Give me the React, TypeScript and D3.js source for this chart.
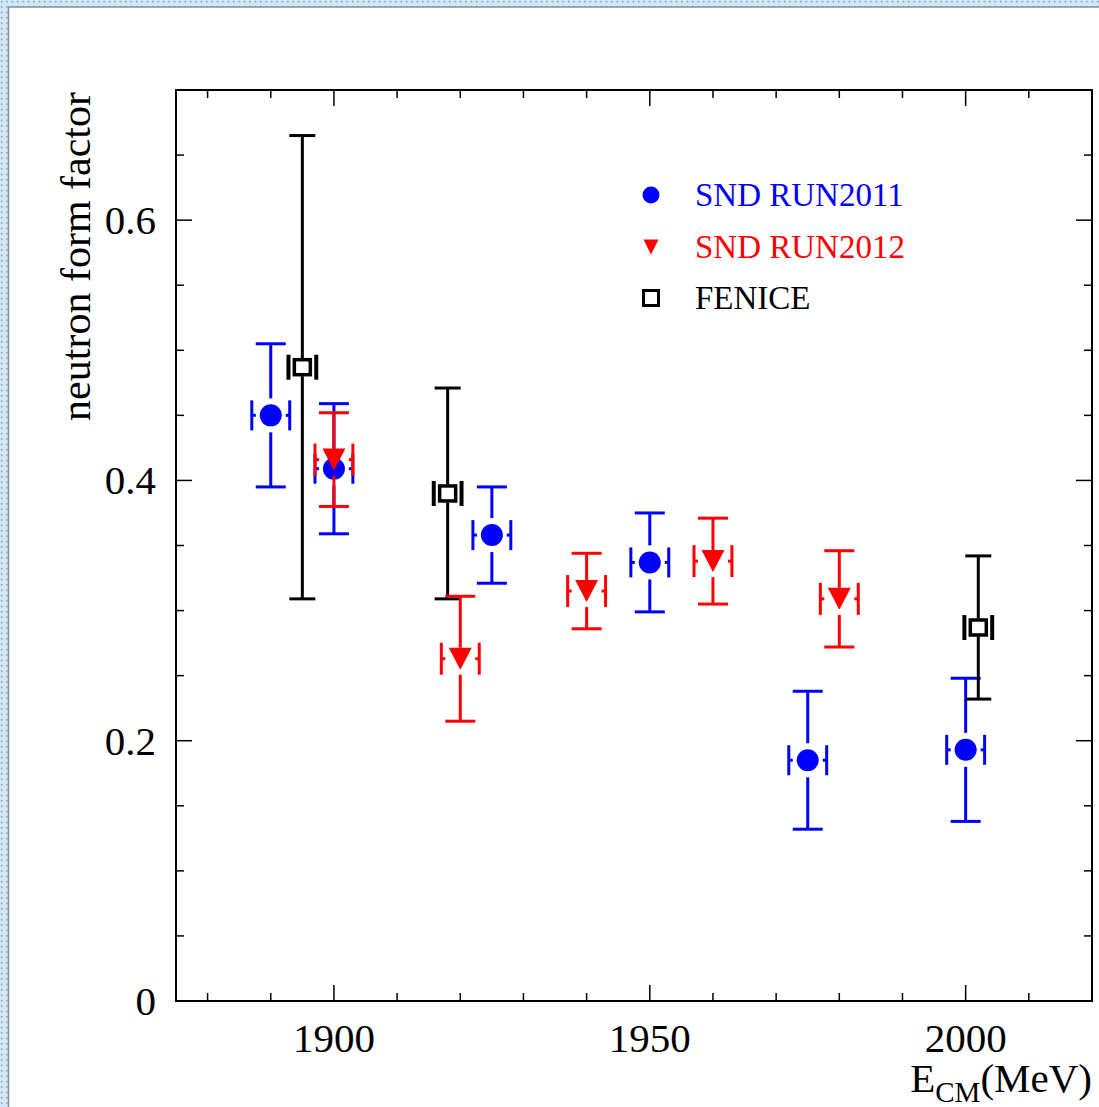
import { useMemo } from 'react';
import * as d3 from 'd3';

// E_CM in MeV, neutron form factor, symmetric stat. error
const run2011E = [1890, 1900, 1925, 1950, 1975, 2000];
const run2011F = [0.45, 0.409, 0.358, 0.337, 0.185, 0.193];
const run2011Err = [0.055, 0.05, 0.037, 0.038, 0.053, 0.055];

const run2012E = [1900, 1920, 1940, 1960, 1980];
const run2012F = [0.416, 0.263, 0.315, 0.338, 0.309];
const run2012Err = [0.036, 0.048, 0.029, 0.033, 0.037];

const feniceE = [1895, 1918, 2002];
const feniceF = [0.487, 0.39, 0.287];
const feniceErr = [0.178, 0.081, 0.055];

// beam energy spread shown as brackets (MeV)
const sndSpread = 3;
const feniceSpread = 2.2;

const xMajor = [1900, 1950, 2000];
const yMajor = [0, 0.2, 0.4, 0.6];

const legendLabels = ['SND RUN2011', 'SND RUN2012', 'FENICE'];

const W = 1099;
const H = 1107;
const plot = { left: 176, right: 1092, top: 90, bottom: 1001 };
const FONT = '"Liberation Serif", "Times New Roman", serif';

function zip(e: number[], f: number[], err: number[]) {
  return e.map((v, i) => ({ e: v, f: f[i], err: err[i] }));
}

export default function App() {
  const x = useMemo(() => d3.scaleLinear().domain([1875, 2020]).range([plot.left, plot.right]), []);
  const y = useMemo(() => d3.scaleLinear().domain([0, 0.7]).range([plot.bottom, plot.top]), []);

  const xMinor = d3.range(1880, 2021, 10).filter((v) => !xMajor.includes(v));
  const yMinor = d3.range(0, 14).map((i) => +(i * 0.05).toFixed(2)).filter((v) => !yMajor.includes(v));

  const blue = zip(run2011E, run2011F, run2011Err);
  const red = zip(run2012E, run2012F, run2012Err);
  const black = zip(feniceE, feniceF, feniceErr);

  const errBar = (
    d: { e: number; f: number; err: number },
    color: string,
    gapTop: number,
    gapBot: number,
    capHalf: number,
    spread: number,
    bracketHalf: number,
    bracketW: number,
    tick: number,
    key: string
  ) => {
    const cx = x(d.e);
    const cy = y(d.f);
    const yt = y(d.f + d.err);
    const yb = y(d.f - d.err);
    const xl = x(d.e - spread);
    const xr = x(d.e + spread);
    return (
      <g key={key} stroke={color} fill="none">
        <line x1={cx} x2={cx} y1={yt} y2={cy - gapTop} strokeWidth={3} />
        <line x1={cx} x2={cx} y1={cy + gapBot} y2={yb} strokeWidth={3} />
        <line x1={cx - capHalf} x2={cx + capHalf} y1={yt} y2={yt} strokeWidth={3} />
        <line x1={cx - capHalf} x2={cx + capHalf} y1={yb} y2={yb} strokeWidth={3} />
        <line x1={xl} x2={xl} y1={cy - bracketHalf} y2={cy + bracketHalf} strokeWidth={bracketW} />
        <line x1={xr} x2={xr} y1={cy - bracketHalf} y2={cy + bracketHalf} strokeWidth={bracketW} />
        {tick > 0 ? <line x1={xl} x2={xl + tick} y1={cy} y2={cy} strokeWidth={3} /> : null}
        {tick > 0 ? <line x1={xr - tick} x2={xr} y1={cy} y2={cy} strokeWidth={3} /> : null}
      </g>
    );
  };

  const tri = (cx: number, cy: number, hw: number, hh: number) =>
    `M${cx - hw},${cy - hh}L${cx + hw},${cy - hh}L${cx},${cy + hh}Z`;

  return (
    <svg
      width={W}
      height={H}
      style={{ position: 'absolute', left: 0, top: 0, background: '#fff' }}
      fontFamily={FONT}
    >
      <defs>
        <pattern id="dots" width="5.4" height="5.4" patternUnits="userSpaceOnUse">
          <rect width="5.4" height="5.4" fill="#cfe9fb" />
          <circle cx="1.6" cy="1.6" r="0.9" fill="#8a98a8" />
        </pattern>
      </defs>
      {/* window frame */}
      <rect x={0} y={0} width={W} height={7} fill="url(#dots)" />
      <rect x={0} y={0} width={8} height={H} fill="url(#dots)" />
      <line x1={8.5} x2={8.5} y1={7} y2={H} stroke="#8c8c8c" strokeWidth={1.5} />
      <line x1={8} x2={W} y1={7} y2={7} stroke="#8c8c8c" strokeWidth={1.5} />

      {/* axes box */}
      <rect
        x={plot.left}
        y={plot.top}
        width={plot.right - plot.left}
        height={plot.bottom - plot.top}
        fill="none"
        stroke="#000"
        strokeWidth={2}
      />
      <g stroke="#000" strokeWidth={1.5}>
        {xMajor.map((v) => (
          <g key={`xM${v}`}>
            <line x1={x(v)} x2={x(v)} y1={plot.bottom} y2={plot.bottom - 16} />
            <line x1={x(v)} x2={x(v)} y1={plot.top} y2={plot.top + 16} />
          </g>
        ))}
        {xMinor.map((v) => (
          <g key={`xm${v}`}>
            <line x1={x(v)} x2={x(v)} y1={plot.bottom} y2={plot.bottom - 8} />
            <line x1={x(v)} x2={x(v)} y1={plot.top} y2={plot.top + 8} />
          </g>
        ))}
        {yMajor.map((v) => (
          <g key={`yM${v}`}>
            <line x1={plot.left} x2={plot.left + 16} y1={y(v)} y2={y(v)} />
            <line x1={plot.right} x2={plot.right - 16} y1={y(v)} y2={y(v)} />
          </g>
        ))}
        {yMinor.map((v) => (
          <g key={`ym${v}`}>
            <line x1={plot.left} x2={plot.left + 8} y1={y(v)} y2={y(v)} />
            <line x1={plot.right} x2={plot.right - 8} y1={y(v)} y2={y(v)} />
          </g>
        ))}
      </g>

      <g fontSize={41} fill="#000">
        {xMajor.map((v) => (
          <text key={`xl${v}`} x={x(v)} y={1052} textAnchor="middle">
            {v}
          </text>
        ))}
        {yMajor.map((v) => (
          <text key={`yl${v}`} x={156} y={y(v) + 14} textAnchor="end">
            {v === 0 ? '0' : v.toFixed(1)}
          </text>
        ))}
        <text x={plot.right} y={1092} textAnchor="end">
          E
          <tspan fontSize={29} dy={10}>
            CM
          </tspan>
          <tspan dy={-10}>(MeV)</tspan>
        </text>
        <text
          transform={`translate(90, ${plot.top + 2}) rotate(-90)`}
          textAnchor="end"
          fontSize={42}
        >
          neutron form factor
        </text>
      </g>

      {/* SND RUN2011 */}
      {blue.map((d, i) => errBar(d, '#0000ff', 17, 17, 15, sndSpread, 15, 3, 4, `b${i}`))}
      {blue.map((d, i) => (
        <circle key={`bc${i}`} cx={x(d.e)} cy={y(d.f)} r={11} fill="#0000ff" />
      ))}

      {/* FENICE */}
      {black.map((d, i) => errBar(d, '#000', 9, 9, 13, feniceSpread, 12.5, 4, 0, `k${i}`))}
      {black.map((d, i) => (
        <rect
          key={`kr${i}`}
          x={x(d.e) - 8}
          y={y(d.f) - 7.5}
          width={16}
          height={15}
          fill="#fff"
          stroke="#000"
          strokeWidth={3.5}
        />
      ))}

      {/* SND RUN2012 */}
      {red.map((d, i) => errBar(d, '#ff0000', 11, 16, 15, sndSpread, 16, 3, 4, `r${i}`))}
      {red.map((d, i) => (
        <path key={`rt${i}`} d={tri(x(d.e), y(d.f), 11.5, 11)} fill="#ff0000" />
      ))}

      {/* legend */}
      <g fontSize={33}>
        <circle cx={651} cy={195} r={8.5} fill="#0000ff" />
        <text x={695} y={206} fill="#0000ff">
          {legendLabels[0]}
        </text>
        <path d={tri(651, 247, 7.5, 7.5)} fill="#ff0000" />
        <text x={695} y={258} fill="#ff0000">
          {legendLabels[1]}
        </text>
        <rect x={643.5} y={290.5} width={15} height={15} fill="#fff" stroke="#000" strokeWidth={3} />
        <text x={695} y={309} fill="#000">
          {legendLabels[2]}
        </text>
      </g>
    </svg>
  );
}
